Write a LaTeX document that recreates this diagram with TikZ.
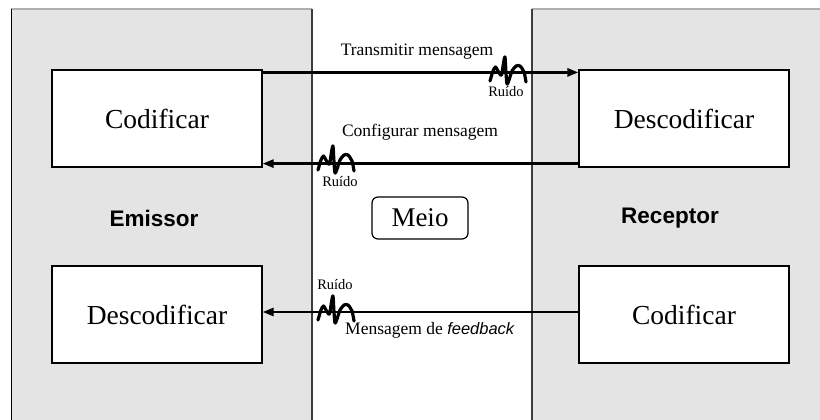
\documentclass[tikz,border=0pt]{standalone}
\usepackage{fontspec}
\setmainfont{Liberation Serif}
\newfontfamily\arialfont{Liberation Sans}
\usetikzlibrary{arrows.meta}

\definecolor{panelgray}{HTML}{E4E4E4}
\definecolor{paneltop}{HTML}{B0B0B0}
\definecolor{paneledge}{HTML}{3C3C3C}

\tikzset{
  stagebox/.style={draw=black, line width=1.2pt, fill=white,
    minimum width=210pt, minimum height=97pt, inner sep=0pt,
    font=\fontsize{27.5}{32}\selectfont},
  rolelabel/.style={font=\arialfont\bfseries\fontsize{22.5}{27}\selectfont},
  msglabel/.style={font=\fontsize{17.5}{21}\selectfont, inner sep=0pt},
  noiselabel/.style={font=\fontsize{14.5}{17}\selectfont, inner sep=0pt},
  msgarrow/.style={line width=2.5pt, -{Triangle[length=11pt,width=8pt]}},
  noisestroke/.style={line width=3.2pt, line cap=round, line join=round},
  noise/.pic={
    \draw[noisestroke] plot[smooth, tension=0.45] coordinates
      {(0,8) (3,-2) (5.5,-6) (8.5,-1) (11.5,2) (13.5,-10) (15,-16) (16,0) (17,11)
       (19,7) (22,-2) (26,-7) (30,-7) (34,-1) (36,9)};
  }
}

\begin{document}
\begin{tikzpicture}[x=1pt, y=-1pt]
  \useasboundingbox (0,0) rectangle (820,420);
  \fill[white] (0,0) rectangle (820,420);

  % sender and receiver panels
  \fill[panelgray] (11,9) rectangle (312,420);
  \fill[panelgray] (532,9) rectangle (820,420);
  \draw[paneltop, line width=1.6pt] (11,9) -- (312,9);
  \draw[paneltop, line width=1.6pt] (532,9) -- (820,9);
  \draw[black, line width=1.3pt] (11.5,9) -- (11.5,420);
  \draw[paneledge, line width=1.8pt] (312,9) -- (312,420);
  \draw[paneledge, line width=2pt] (532,9) -- (532,420);

  % processing stages
  \node[stagebox] (enc1) at (157,118.5) {Codificar};
  \node[stagebox] (dec1) at (157,314.5) {Descodificar};
  \node[stagebox] (dec2) at (684,118.5) {Descodificar};
  \node[stagebox] (enc2) at (684,314.5) {Codificar};

  \node[rolelabel] (sender) at (154,218) {Emissor};
  \node[rolelabel] (receiver) at (670,218) {Receptor};

  \node[draw=black, line width=1.2pt, rounded corners=6pt, fill=white,
        minimum width=96pt, minimum height=42pt, inner sep=0pt,
        font=\fontsize{27}{31}\selectfont] (medium) at (420,218) {Meio};

  % messages
  \draw[msgarrow] ([yshift=-3pt]enc1.north east) -- ([yshift=-3pt]dec2.north west);
  \draw[msgarrow] ([yshift=4pt]dec2.south west) -- ([yshift=4pt]enc1.south east);
  \draw[msgarrow] ([yshift=2.5pt]enc2.west) -- ([yshift=2.5pt]dec1.east);

  \node[msglabel] (send) at (417,52) {Transmitir mensagem};
  \node[msglabel] (conf) at (420,132) {Configurar mensagem};
  \node[msglabel, anchor=west] (feed) at (345,330)
    {Mensagem de {\arialfont\itshape\fontsize{16.5}{20}\selectfont feedback}};

  % noise on each channel
  \pic at (490,73) {noise};
  \pic at (318,162) {noise};
  \pic at (318,312) {noise};
  \node[noiselabel] (n1) at (506,92) {Ruído};
  \node[noiselabel] (n2) at (340,182) {Ruído};
  \node[noiselabel] (n3) at (335,285) {Ruído};
\end{tikzpicture}
\end{document}
